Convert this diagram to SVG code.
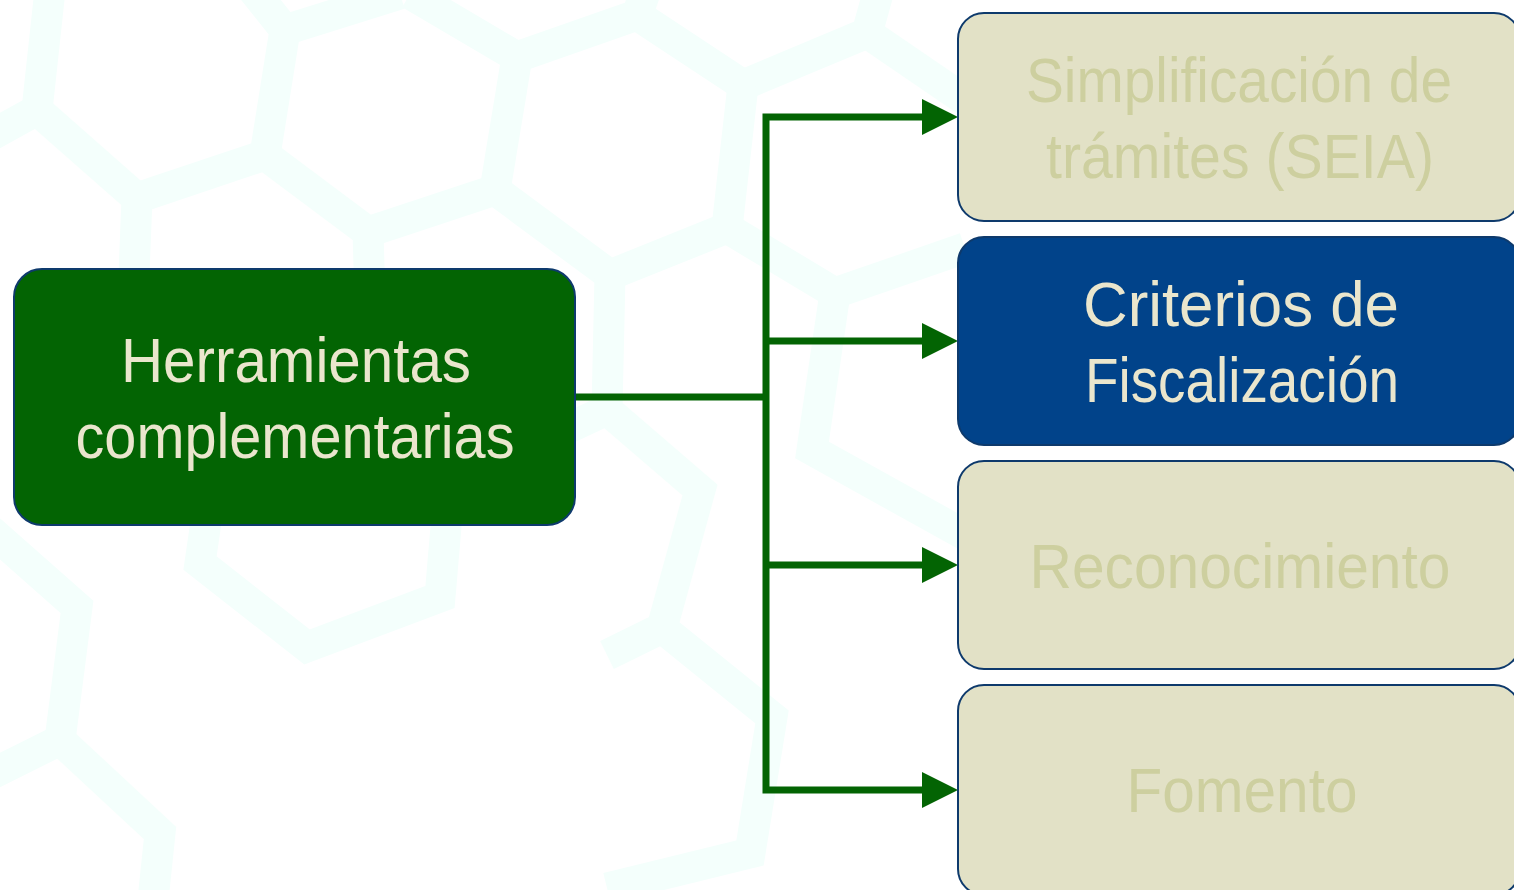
<svg xmlns="http://www.w3.org/2000/svg" width="1514" height="890" viewBox="0 0 1514 890">
  <defs>
    <style>
      .hex { fill: none; stroke: #F4FFFC; stroke-width: 31; stroke-linejoin: miter; }
      .box { stroke: #0E3A6C; stroke-width: 2; }
      .main { fill: #036403; }
      .dim { fill: #E2E1C6; }
      .active { fill: #01438A; }
      .lbl { font-family: "Liberation Sans Narrow", "Liberation Sans", Arial, sans-serif; font-size: 63px; text-anchor: middle; }
      .light { fill: #EAE6CD; }
      .faded { fill: #CDCF9F; }
      .conn { fill: none; stroke: #036403; stroke-width: 7; stroke-linejoin: miter; }
      .head { fill: #036403; }
    </style>
  </defs>

  <rect x="0" y="0" width="1514" height="890" fill="#FFFFFF"/>

  <g id="background">
    <polyline class="hex" points="50,-10 37,110 -10,136"/>
    <polyline class="hex" points="37,110 137,198 133,300"/>
    <polyline class="hex" points="137,198 265,155 285,30 253,-10"/>
    <polyline class="hex" points="285,30 400,-6"/>
    <polyline class="hex" points="265,155 368,232 370,300"/>
    <polyline class="hex" points="368,232 495,190 517,57 410,-6"/>
    <polyline class="hex" points="517,57 637,15 646,-10"/>
    <polyline class="hex" points="637,15 743,85 867,33 879,-10"/>
    <polyline class="hex" points="495,190 610,275 727,228 743,85"/>
    <polyline class="hex" points="727,228 835,293 965,248"/>
    <polyline class="hex" points="867,33 965,100"/>
    <polyline class="hex" points="610,275 607,410 700,490 662,628"/>
    <polyline class="hex" points="607,410 560,432"/>
    <polyline class="hex" points="662,628 607,655"/>
    <polyline class="hex" points="662,628 772,717 750,853 607,888"/>
    <polyline class="hex" points="835,293 812,450 965,535"/>
    <polyline class="hex" points="-10,530 77,607 60,740 -10,775"/>
    <polyline class="hex" points="60,740 160,833 153,900"/>
    <polyline class="hex" points="207,515 200,563 307,647 440,597 447,515"/>
  </g>

  <g id="connectors">
    <path class="conn" d="M575,397 H766"/>
    <path class="conn" d="M924,117 H766 V790 H924"/>
    <path class="conn" d="M766,341 H924"/>
    <path class="conn" d="M766,565 H924"/>
    <polygon class="head" points="922,99 958,117 922,135"/>
    <polygon class="head" points="922,323 958,341 922,359"/>
    <polygon class="head" points="922,547 958,565 922,583"/>
    <polygon class="head" points="922,772 958,790 922,808"/>
  </g>

  <g id="node-herramientas">
    <rect class="box main" x="14" y="269" width="561" height="256" rx="28" ry="28"/>
    <text class="lbl light" x="296" y="382" textLength="350" lengthAdjust="spacingAndGlyphs">Herramientas</text>
    <text class="lbl light" x="295" y="458" textLength="439" lengthAdjust="spacingAndGlyphs">complementarias</text>
  </g>

  <g id="node-simplificacion">
    <rect class="box dim" x="958" y="13" width="562" height="208" rx="26" ry="26"/>
    <text class="lbl faded" x="1239" y="102" textLength="426" lengthAdjust="spacingAndGlyphs">Simplificación de</text>
    <text class="lbl faded" x="1240" y="178" textLength="388" lengthAdjust="spacingAndGlyphs">trámites (SEIA)</text>
  </g>

  <g id="node-criterios">
    <rect class="box active" x="958" y="237" width="562" height="208" rx="26" ry="26"/>
    <text class="lbl light" x="1241" y="326" textLength="316" lengthAdjust="spacingAndGlyphs">Criterios de</text>
    <text class="lbl light" x="1242" y="402" textLength="314" lengthAdjust="spacingAndGlyphs">Fiscalización</text>
  </g>

  <g id="node-reconocimiento">
    <rect class="box dim" x="958" y="461" width="562" height="208" rx="26" ry="26"/>
    <text class="lbl faded" x="1240" y="588" textLength="421" lengthAdjust="spacingAndGlyphs">Reconocimiento</text>
  </g>

  <g id="node-fomento">
    <rect class="box dim" x="958" y="685" width="562" height="210" rx="26" ry="26"/>
    <text class="lbl faded" x="1242" y="812" textLength="231" lengthAdjust="spacingAndGlyphs">Fomento</text>
  </g>
</svg>
